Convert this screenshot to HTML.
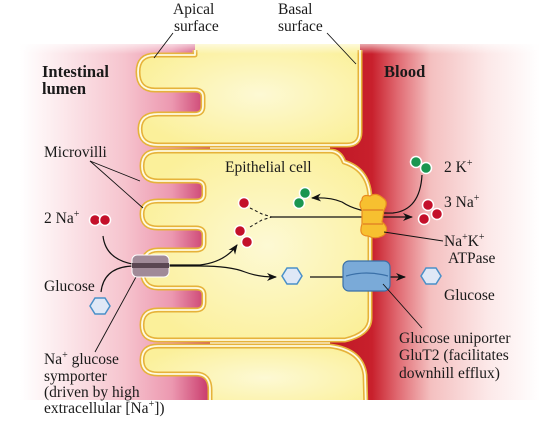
<!DOCTYPE html>
<html><head><meta charset="utf-8"><style>
html,body{margin:0;padding:0;background:#fff;}
svg{display:block;}
text{font-family:"Liberation Serif",serif;font-size:15.5px;fill:#1a1a1a;}
.b{font-weight:bold;font-size:16.5px;}
</style></head><body>
<svg width="540" height="421" viewBox="0 0 540 421">
<defs>
<linearGradient id="lum" x1="0" x2="1" y1="0" y2="0">
<stop offset="0" stop-color="#fff"/>
<stop offset="0.15" stop-color="#fdf0f2"/>
<stop offset="0.55" stop-color="#f6c4ce"/>
<stop offset="0.8" stop-color="#ec98b0"/>
<stop offset="1" stop-color="#c8386a"/>
</linearGradient>
<linearGradient id="bld" x1="0" x2="1" y1="0" y2="0">
<stop offset="0" stop-color="#c01826"/>
<stop offset="0.2" stop-color="#c8202c"/>
<stop offset="0.32" stop-color="#e06870"/>
<stop offset="0.48" stop-color="#f4c0c0"/>
<stop offset="0.75" stop-color="#fce8e8"/>
<stop offset="1" stop-color="#fff"/>
</linearGradient>
<linearGradient id="topfade" x1="0" x2="0" y1="0" y2="1">
<stop offset="0" stop-color="#fff" stop-opacity="1"/>
<stop offset="1" stop-color="#fff" stop-opacity="0"/>
</linearGradient>
<radialGradient id="cellg" cx="0.55" cy="0.5" r="0.6">
<stop offset="0" stop-color="#fdf9d4"/>
<stop offset="1" stop-color="#fbf09a"/>
</radialGradient>
<marker id="ah" markerWidth="10" markerHeight="8" refX="9" refY="4" orient="auto" markerUnits="userSpaceOnUse">
<path d="M0,0 L10,4 L0,8 L3,4 Z" fill="#111"/>
</marker>
</defs>

<rect x="20" y="44" width="190" height="377" fill="url(#lum)"/>
<rect x="330" y="44" width="210" height="377" fill="url(#bld)"/>

<g stroke-linejoin="round">
<path d="M195,44 L360,44 L360,132 Q360,145 347,145 L158,145 Q140,145 140,129 Q140,114 158,114 L195,114 Q203,114 203,106 L203,97 Q203,90 195,90 L155,90 Q138,90 138,72 Q138,55 155,55 L195,55 Z" fill="url(#cellg)"/>
<path d="M195,50 L195,55 L155,55 Q138,55 138,72 Q138,90 155,90 L195,90 Q203,90 203,97 L203,106 Q203,114 195,114 L158,114 Q140,114 140,129 Q140,145 158,145 L347,145 Q360,145 360,132 L360,50" fill="none" stroke="#e6b23a" stroke-width="5"/>
<path d="M195,50 L195,55 L155,55 Q138,55 138,72 Q138,90 155,90 L195,90 Q203,90 203,97 L203,106 Q203,114 195,114 L158,114 Q140,114 140,129 Q140,145 158,145 L347,145 Q360,145 360,132 L360,50" fill="none" stroke="#fffbe0" stroke-width="1.8"/>

<path d="M158,151 L330,151 Q340,151 344,162 Q370,170 370,200 L370,318 Q370,334 345,340 L158,340 Q142,340 142,325 Q142,310 158,310 L196,310 Q204,310 204,302 L204,295 Q204,288 196,288 L158,288 Q142,288 142,269 Q142,250 158,250 L196,250 Q204,250 204,243 L204,235 Q204,228 196,228 L158,228 Q142,228 142,214 Q142,201 158,201 L196,201 Q204,201 204,194 L204,188 Q204,181 196,181 L158,181 Q142,181 142,166 Q142,151 158,151 Z" fill="url(#cellg)" stroke="#e6b23a" stroke-width="5"/>
<path d="M158,151 L330,151 Q340,151 344,162 Q370,170 370,200 L370,318 Q370,334 345,340 L158,340 Q142,340 142,325 Q142,310 158,310 L196,310 Q204,310 204,302 L204,295 Q204,288 196,288 L158,288 Q142,288 142,269 Q142,250 158,250 L196,250 Q204,250 204,243 L204,235 Q204,228 196,228 L158,228 Q142,228 142,214 Q142,201 158,201 L196,201 Q204,201 204,194 L204,188 Q204,181 196,181 L158,181 Q142,181 142,166 Q142,151 158,151 Z" fill="none" stroke="#fffbe0" stroke-width="1.8"/>

<path d="M158,346 L330,346 Q362,350 365,375 L366,410 L210,410 L210,390 Q210,374 196,374 L158,374 Q142,374 142,360 Q142,346 158,346 Z" fill="url(#cellg)"/>
<path d="M210,410 L210,390 Q210,374 196,374 L158,374 Q142,374 142,360 Q142,346 158,346 L330,346 Q362,350 365,375 L366,410" fill="none" stroke="#e6b23a" stroke-width="5"/>
<path d="M210,410 L210,390 Q210,374 196,374 L158,374 Q142,374 142,360 Q142,346 158,346 L330,346 Q362,350 365,375 L366,410" fill="none" stroke="#fffbe0" stroke-width="1.8"/>
</g>

<rect x="0" y="38" width="540" height="16" fill="url(#topfade)"/>
<rect x="0" y="0" width="540" height="40" fill="#fff"/>
<rect x="0" y="400" width="540" height="21" fill="#fff"/>

<text x="173" y="14">Apical</text>
<text x="174" y="31">surface</text>
<text x="278" y="14">Basal</text>
<text x="278" y="31">surface</text>
<line x1="173" y1="33" x2="154" y2="58" stroke="#111" stroke-width="0.9"/>
<line x1="327" y1="33" x2="356" y2="64" stroke="#111" stroke-width="0.9"/>
<text x="42" y="77" class="b">Intestinal</text>
<text x="42" y="94" class="b">lumen</text>
<text x="384" y="77" class="b">Blood</text>
<text x="44" y="157">Microvilli</text>
<line x1="90" y1="161" x2="140" y2="181" stroke="#111" stroke-width="0.9"/>
<line x1="90" y1="161" x2="143" y2="208" stroke="#111" stroke-width="0.9"/>
<text x="225" y="172">Epithelial cell</text>

<text x="44" y="223">2 Na<tspan dy="-6" font-size="10">+</tspan></text>
<circle cx="95" cy="220" r="5.5" fill="#c4102a" stroke="#fff" stroke-width="1.5"/>
<circle cx="105" cy="220" r="5.5" fill="#c4102a" stroke="#fff" stroke-width="1.5"/>
<text x="44" y="291">Glucose</text>
<polygon points="90,306 95,298 105,298 110,306 105,314 95,314" fill="#dfe8f6" stroke="#4a90c8" stroke-width="1.5"/>

<text x="44" y="364">Na<tspan dy="-6" font-size="10">+</tspan><tspan dy="6"> glucose</tspan></text>
<text x="44" y="381">symporter</text>
<text x="44" y="397">(driven by high</text>
<text x="44" y="413">extracellular [Na<tspan dy="-6" font-size="10">+</tspan><tspan dy="6">])</tspan></text>
<line x1="95" y1="352" x2="136" y2="277" stroke="#111" stroke-width="0.9"/>

<path d="M103,236 Q106,262 140,265 L200,265 Q225,262 237,245" fill="none" stroke="#111" stroke-width="1.2" marker-end="url(#ah)"/>
<path d="M101,292 Q104,266 135,266 L200,266 Q230,266 245,272 Q258,277 276,277" fill="none" stroke="#111" stroke-width="1.2" marker-end="url(#ah)"/>
<path d="M310,277 L405,277" fill="none" stroke="#111" stroke-width="1.2" marker-end="url(#ah)"/>
<path d="M272,217 L412,217" fill="none" stroke="#111" stroke-width="1.2" marker-end="url(#ah)"/>
<path d="M250,208 L262,214 L272,217 M250,227 L262,220 L272,217" fill="none" stroke="#111" stroke-width="1" stroke-dasharray="3,2.5"/>
<path d="M422,175 Q420,210 393,213 Q360,214 342,202 Q330,197 312,198" fill="none" stroke="#111" stroke-width="1.2" marker-end="url(#ah)"/>

<g>
<rect x="132" y="255" width="37" height="22" rx="5" fill="#a08a98" stroke="#fff" stroke-width="1"/>
<rect x="132" y="263" width="37" height="5" fill="#5a4652"/>
</g>
<g>
<path d="M362,200 Q362,194 370,196 Q376,192 383,198 Q389,202 384,210 L382,222 Q390,228 384,235 Q376,240 368,236 Q358,236 362,224 L362,210 Q358,204 362,200 Z" fill="#f7c030" stroke="#e88a20" stroke-width="1.2"/>
<line x1="363" y1="210" x2="383" y2="210" stroke="#d86a20" stroke-width="1"/>
<line x1="363" y1="224" x2="383" y2="224" stroke="#d86a20" stroke-width="1"/>
</g>
<g>
<rect x="343" y="261" width="47" height="30" rx="6" fill="#7aaad8" stroke="#3a70a8" stroke-width="1.2"/>
<path d="M346,276 Q366,270 388,276" fill="none" stroke="#3a70a8" stroke-width="1.2"/>
</g>

<circle cx="244" cy="203" r="5.5" fill="#c4102a" stroke="#fff" stroke-width="1.5"/>
<circle cx="240" cy="231" r="5.5" fill="#c4102a" stroke="#fff" stroke-width="1.5"/>
<circle cx="247" cy="242" r="5.5" fill="#c4102a" stroke="#fff" stroke-width="1.5"/>
<circle cx="305" cy="193" r="5.5" fill="#1a9650" stroke="#fff" stroke-width="1.5"/>
<circle cx="299" cy="203" r="5.5" fill="#1a9650" stroke="#fff" stroke-width="1.5"/>
<polygon points="282,276 287,268 297,268 302,276 297,284 287,284" fill="#dfe8f6" stroke="#4a90c8" stroke-width="1.5"/>

<circle cx="416" cy="162" r="5.5" fill="#1a9650" stroke="#fff" stroke-width="1.5"/>
<circle cx="426" cy="168" r="5.5" fill="#1a9650" stroke="#fff" stroke-width="1.5"/>
<text x="444" y="172">2 K<tspan dy="-6" font-size="10">+</tspan></text>
<circle cx="428" cy="205" r="5.5" fill="#c4102a" stroke="#fff" stroke-width="1.5"/>
<circle cx="437" cy="214" r="5.5" fill="#c4102a" stroke="#fff" stroke-width="1.5"/>
<circle cx="424" cy="219" r="5.5" fill="#c4102a" stroke="#fff" stroke-width="1.5"/>
<text x="444" y="207">3 Na<tspan dy="-6" font-size="10">+</tspan></text>
<text x="444" y="246">Na<tspan dy="-6" font-size="10">+</tspan><tspan dy="6">K</tspan><tspan dy="-6" font-size="10">+</tspan></text>
<text x="448" y="263">ATPase</text>
<line x1="443" y1="241" x2="384" y2="232" stroke="#111" stroke-width="0.9"/>
<polygon points="421,276 426,268 436,268 441,276 436,284 426,284" fill="#dfe8f6" stroke="#4a90c8" stroke-width="1.5"/>
<text x="444" y="300">Glucose</text>
<text x="399" y="343">Glucose uniporter</text>
<text x="399" y="360">GluT2 (facilitates</text>
<text x="399" y="378">downhill efflux)</text>
<line x1="422" y1="328" x2="383" y2="284" stroke="#111" stroke-width="0.9"/>
</svg>
</body></html>
